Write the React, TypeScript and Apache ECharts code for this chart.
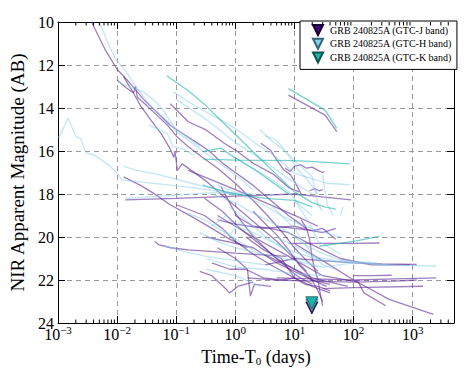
import React, { useEffect, useRef } from 'react';
import * as echarts from 'echarts';

type Pt = [number, number];

// Time since T0 (days), apparent AB magnitude — archival J-band light curves
const J_BAND: Pt[][] = [
  [[0.0037,10.0],[0.0063,11.3],[0.01,12.2],[0.016,12.8],[0.028,13.6],[0.047,14.2],[0.079,14.8],[0.13,15.2],[0.22,15.6],[0.36,16.0],[0.63,16.6],[1.0,17.0],[2.0,17.6],[4.0,18.3],[7.9,19.0],[16,19.6]],
  [[0.01,12.7],[0.014,13.05],[0.019,13.3],[0.0204,13.0],[0.022,13.5],[0.032,13.9],[0.05,14.4],[0.071,14.8],[0.1,15.3],[0.16,15.8],[0.28,16.3],[0.5,16.8],[1.0,17.5],[2.0,18.3],[3.5,19.0],[6.3,19.8],[10,20.5],[16,21.1],[25,21.6]],
  [[0.0129,12.55],[0.018,13.2],[0.025,13.9],[0.038,14.6],[0.056,15.2],[0.079,15.9],[0.091,16.3],[0.095,16.0],[0.105,16.9],[0.126,16.6],[0.18,16.9],[0.32,17.4],[0.63,18.1],[1.26,18.8],[2.5,19.5],[5,20.2],[10,21.0],[16,21.6]],
  [[7.9,13.4],[33,14.33],[52,15.1]],
  [[0.0129,17.2],[0.025,17.6],[0.041,17.96],[0.079,18.5],[0.18,19.04],[0.4,19.6],[0.8,20.1],[1.6,20.5]],
  [[0.0138,18.27],[0.1,18.2],[1.0,18.1],[3.2,18.05],[10,18.0],[32,18.15],[91,18.27]],
  [[0.043,20.2],[0.05,20.35],[0.08,20.5],[0.16,20.6],[1.0,20.75],[7.4,20.9]],
  [[0.079,13.8],[0.16,14.64],[0.32,15.02],[0.65,15.64],[1.1,16.03],[2.0,16.57],[4.5,17.1],[8,17.7],[12,17.9]],
  [[0.57,17.65],[1.0,18.9],[2.0,19.97],[4.5,20.9],[11,21.8],[20,22.2]],
  [[0.16,16.9],[1.0,17.8],[11,19.04],[25,19.5]],
  [[0.5,20.5],[1.0,21.0],[1.6,21.5],[1.8,22.75],[2.1,22.2],[4,22.3]],
  [[2.7,15.64],[3.9,15.95],[5,16.41],[6.6,16.88],[8.5,17.1],[10,17.4],[13,18.0]],
  [[7,16.8],[8.5,16.95],[10,16.7],[13,16.65],[16,16.8],[20,16.75],[25,16.9],[30,17.0],[32,16.95]],
  [[18,17.85],[22,17.75],[26,17.85],[30,17.8]],
  [[5,21.9],[20,21.95],[100,22.0],[500,21.95],[2500,21.9]],
  [[0.5,19.0],[2,20.0],[8,20.9],[30,21.8],[120,22.1],[150,22.6],[350,23.2]],
  [[10,20.3],[30,21.1],[100,22.0],[400,22.9],[2240,23.6]],
  [[1.6,21.9],[5,22.0],[20,22.05],[100,22.1],[500,22.05],[1170,22.0]],
  [[3.2,21.3],[10,21.0],[30,21.1],[100,21.2],[300,21.25],[1170,21.28]],
  [[30,22.4],[100,22.35],[1500,22.29]],
  [[8,20.3],[30,20.3],[100,20.3],[275,20.28]],
  [[0.5,19.2],[1,19.4],[3,19.6],[10,19.5],[20,19.7],[30,19.6],[50,20.1]],
  [[0.32,20.0],[1.0,20.3],[2.0,20.5],[5,21.2],[10,21.6],[20,22.0],[40,22.2]],
  [[0.25,21.6],[0.4,21.8],[0.63,22.3],[0.8,22.6],[1.1,22.3],[2,22.1]],
  [[1.5,20.0],[3,20.6],[6,21.0],[10,21.9],[15,22.2],[25,22.3],[40,22.5]],
  [[1.0,19.0],[2,19.5],[4,19.6],[8,19.8],[15,20.2],[30,20.6],[60,21.0],[200,21.3],[900,21.3]],
  [[5,19.5],[10,19.6],[20,19.7],[30,19.8],[50,19.6]],
  [[0.1,18.5],[0.3,19.0],[0.6,19.6],[1,20.2],[2,20.8],[4,21.3],[10,21.9],[20,22.3],[40,22.6]],
  [[2,18.8],[3,19.3],[5,19.9],[8,20.6],[12,21.3],[18,21.8],[25,22.5],[30,23.0]],
  [[13,19.2],[16,19.6],[18,20.1],[20,21.0],[22,21.5],[25,22.0],[28,22.8],[30,23.2]],
  [[0.4,21.2],[0.8,21.5],[1.5,21.5],[3,21.9],[6,22.0],[10,21.9]],
  [[100,21.8],[200,21.8],[440,21.78]],
  [[0.3,18.2],[0.6,18.8],[1.2,19.6],[2.5,20.3],[5,21.0],[10,21.5],[20,22.0],[35,22.3]],
  [[3,20.8],[6,21.2],[12,21.6],[20,21.9],[40,22.1],[80,22.3]],
];

// H-band light curves
const H_BAND: Pt[][] = [
  [[0.005,10.0],[0.0068,10.9],[0.0093,11.7],[0.014,12.3],[0.021,13.0],[0.032,13.7],[0.047,14.2],[0.071,14.6],[0.1,15.1],[0.16,15.5],[0.25,15.9],[0.5,16.5],[1.0,17.1],[2.0,17.8]],
  [[0.0105,12.8],[0.017,13.05],[0.028,13.25],[0.045,13.7],[0.06,14.1],[0.079,14.6],[0.1,15.0],[0.16,15.4],[0.25,15.8]],
  [[0.035,14.8],[0.05,15.0],[0.071,15.2],[0.089,15.8],[0.13,15.9],[0.2,16.2]],
  [[0.00102,15.4],[0.00148,14.48],[0.002,15.33],[0.0024,15.41],[0.003,16.1],[0.0041,16.18],[0.0072,16.65],[0.01,17.03],[0.012,17.34],[0.19,17.7],[1.0,18.0]],
  [[0.013,16.72],[0.02,16.88],[0.05,17.1],[0.18,17.5],[0.5,17.8],[1.0,18.1]],
  [[0.0138,18.2],[0.1,18.05],[0.32,17.95],[1.0,17.95],[2.0,18.0]],
  [[0.063,20.4],[0.15,20.7],[0.32,20.9],[1.0,21.1],[3.2,21.3]],
  [[0.089,13.25],[0.22,13.94],[0.45,14.4],[1.0,14.95],[2.2,15.64],[5,16.3],[10,17.03],[20,17.3],[35,17.5],[85,17.57]],
  [[0.1,13.6],[0.35,14.6],[1.0,15.6],[3.6,16.6],[9,17.4],[20,18.0]],
  [[2.6,15.0],[4,15.5],[6.6,15.95],[9.8,16.4],[14,16.8],[20,17.2],[25,18.5],[30,18.8]],
  [[3.2,15.3],[5,15.5],[8,16.2],[11,16.8],[16,17.3],[25,18.0]],
  [[30,17.1],[33,17.9],[36,18.5],[45,19.0]],
  [[60,19.0],[66,18.6]],
  [[0.4,19.5],[0.7,19.0],[1.0,19.5],[2,19.8],[4,20.2],[10,20.7],[30,21.1],[100,21.2],[300,21.3],[2500,21.36]],
  [[0.25,19.8],[0.5,20.2],[1,20.5],[3,20.8],[10,21.1],[30,21.4],[100,21.2]],
  [[0.32,21.5],[1.0,21.8],[2.7,22.3]],
  [[0.32,21.0],[1,21.4],[3,21.5],[10,21.7],[30,21.8]],
  [[0.79,18.6],[1.5,19.2],[3,19.9],[6,20.5],[12,21.0],[25,21.4]],
  [[0.4,18.0],[1,18.4],[2,18.9],[4,19.3],[8,19.8],[16,20.4],[32,20.8],[64,21.1],[250,21.2]],
  [[4,18.5],[6,19.0],[10,19.6],[14,20.2],[20,20.8],[30,21.3],[50,21.5]],
  [[0.63,19.7],[0.8,19.9],[1.2,19.3],[1.6,19.6],[2.5,20.2]],
  [[10,18.3],[15,19.0],[20,19.6],[25,20.2],[40,20.5],[60,20.8]],
  [[1.0,16.3],[2,16.8],[4,17.3],[8,17.9],[12,18.5],[20,19.0]],
  [[0.5,17.6],[1.2,18.0],[3,18.5],[6,19.0],[12,19.4],[25,19.7],[60,20.0]],
  [[0.16,18.9],[0.3,19.2],[0.5,19.6],[1,20.1],[2,20.6]],
  [[5,20.0],[10,20.4],[20,20.9],[50,21.1],[150,21.2],[400,21.3]],
];

// K-band light curves
const K_BAND: Pt[][] = [
  [[0.069,12.5],[0.16,13.2],[0.32,13.9],[0.63,14.7],[1.26,15.5],[2.5,16.3],[5,17.1],[10,17.9],[20,18.4],[32,18.6],[50,18.7]],
  [[7.9,13.1],[33,14.1],[52,14.95]],
  [[0.29,16.38],[1.0,16.42],[10,16.45],[30,16.52],[85,16.6]],
  [[0.28,16.03],[0.57,15.87],[0.83,16.18],[1.4,16.57],[2.5,17.0],[4,17.4],[8,18.0]],
  [[0.28,17.57],[0.5,17.8],[1.0,18.0],[3.2,18.2],[10,18.3],[20,18.6]],
  [[26,20.43],[100,20.2],[275,19.97]],
];

// GRB 240825A GTC upper limits
const GTC_TIME = 19.7;
const GTC_J = 23.3;
const GTC_H = 23.18;
const GTC_K = 23.06;

const Y_MIN = 10;
const Y_MAX = 24;
const Y_STEP = 2;
const X_MIN = 0.001;
const X_MAX = 5000;
const DECADES = [-3, -2, -1, 0, 1, 2, 3];
const MINOR_MULT = [2, 3, 4, 5, 6, 7, 8, 9];
const LEGEND_NAMES = ['GRB 240825A (GTC-J band)', 'GRB 240825A (GTC-H band)', 'GRB 240825A (GTC-K band)'];

const FONT = '"Liberation Serif", "Times New Roman", serif';
const C_J_LINE = 'rgba(94, 42, 150, 0.6)';
const C_H_LINE = 'rgba(135, 206, 235, 0.5)';
const C_K_LINE = 'rgba(32, 178, 170, 0.6)';
const C_J = '#3f0a78';
const C_H = '#87ceeb';
const C_K = '#20b2aa';
const TRI_DOWN = 'path://M0,0L2,0L1,2Z';

export default function App() {
  const ref = useRef<HTMLDivElement>(null);
  useEffect(() => {
    if (!ref.current) return;
    const chart = echarts.init(ref.current, undefined, { renderer: 'svg' });

    const minorTicks: number[][] = [];
    DECADES.forEach((d) => {
      MINOR_MULT.forEach((m) => {
        const v = m * Math.pow(10, d);
        if (v < X_MAX) minorTicks.push([v, Y_MAX]);
      });
    });

    const lineSeries = (curves: Pt[][], color: string, band: string) =>
      curves.map((c, i) => ({
        type: 'line',
        name: `${band}-${i}`,
        data: c,
        showSymbol: false,
        silent: true,
        lineStyle: { color, width: 1.3 },
        z: 2,
      }));

    const axisCommon = {
      axisLine: { show: true, lineStyle: { color: '#000', width: 1 } },
      axisTick: { show: true, inside: true, length: 7, lineStyle: { color: '#000' } },
    };

    const option: any = {
      animation: false,
      grid: { left: 54, right: 14, top: 22, bottom: 52 },
      xAxis: [
        {
          type: 'log',
          logBase: 10,
          min: X_MIN,
          max: X_MAX,
          interval: 1,
          name: '{a|Time-T}{sub|0}{a| (days)}',
          nameLocation: 'middle',
          nameGap: 25,
          nameTextStyle: {
            rich: {
              a: { fontFamily: FONT, fontSize: 18, color: '#000' },
              sub: { fontFamily: FONT, fontSize: 11, color: '#000', verticalAlign: 'bottom', lineHeight: 15 },
            },
          },
          ...axisCommon,
          axisLabel: {
            showMaxLabel: false,
            margin: 1,
            formatter: (v: number) => {
              const l = Math.log10(v);
              const e = Math.round(l);
              if (Math.abs(l - e) > 1e-6) return '';
              return `{b|10}{s|${e < 0 ? '\u2212' + -e : e}}`;
            },
            rich: {
              b: { fontFamily: FONT, fontSize: 16, color: '#000', lineHeight: 20 },
              s: { fontFamily: FONT, fontSize: 11, color: '#000', verticalAlign: 'top', lineHeight: 12 },
            },
          },
          splitLine: { show: true, lineStyle: { color: '#999', type: [5, 4], width: 1 } },
        },
        {
          type: 'log',
          logBase: 10,
          min: X_MIN,
          max: X_MAX,
          interval: 1,
          position: 'top',
          ...axisCommon,
          axisLabel: { show: false },
          splitLine: { show: false },
        },
      ],
      yAxis: [
        {
          type: 'value',
          inverse: true,
          min: Y_MIN,
          max: Y_MAX,
          interval: Y_STEP,
          name: 'NIR Apparent Magnitude (AB)',
          nameLocation: 'middle',
          nameGap: 31,
          nameTextStyle: { fontFamily: FONT, fontSize: 19, color: '#000' },
          ...axisCommon,
          axisLabel: { fontFamily: FONT, fontSize: 16, color: '#000', margin: 4 },
          splitLine: { show: true, lineStyle: { color: '#999', type: [5, 4], width: 1 } },
        },
        {
          type: 'value',
          inverse: true,
          min: Y_MIN,
          max: Y_MAX,
          interval: Y_STEP,
          position: 'right',
          ...axisCommon,
          axisLabel: { show: false },
          splitLine: { show: false },
        },
      ],
      legend: {
        left: 300,
        top: 21,
        orient: 'vertical',
        itemWidth: 10,
        itemHeight: 10,
        itemGap: 1.7,
        padding: [3, 5, 6, 12],
        borderColor: '#000',
        borderWidth: 1,
        borderRadius: 0,
        backgroundColor: '#fff',
        selectedMode: false,
        textStyle: { fontFamily: FONT, fontSize: 10, lineHeight: 10, color: '#000', padding: [0, 0, 0, 2] },
        data: LEGEND_NAMES,
      },
      series: [
        ...lineSeries(J_BAND, C_J_LINE, 'J'),
        ...lineSeries(H_BAND, C_H_LINE, 'H'),
        ...lineSeries(K_BAND, C_K_LINE, 'K'),
        {
          type: 'custom',
          name: 'minor-ticks',
          silent: true,
          clip: false,
          data: minorTicks,
          renderItem: (params: any, api: any) => {
            const v = api.value(0);
            const b = api.coord([v, Y_MAX]);
            const t = api.coord([v, Y_MIN]);
            return {
              type: 'group',
              children: [
                { type: 'line', shape: { x1: b[0], y1: b[1], x2: b[0], y2: b[1] - 3.5 }, style: { stroke: '#000', lineWidth: 1 } },
                { type: 'line', shape: { x1: t[0], y1: t[1], x2: t[0], y2: t[1] + 3.5 }, style: { stroke: '#000', lineWidth: 1 } },
              ],
            };
          },
          z: 5,
        },
        {
          type: 'scatter',
          name: LEGEND_NAMES[0],
          data: [[GTC_TIME, GTC_J]],
          symbol: TRI_DOWN,
          symbolSize: 12,
          itemStyle: { color: C_J, borderColor: '#1a0033', borderWidth: 0.8, opacity: 1 },
          z: 10,
        },
        {
          type: 'scatter',
          name: LEGEND_NAMES[1],
          data: [[GTC_TIME, GTC_H]],
          symbol: TRI_DOWN,
          symbolSize: 12,
          itemStyle: { color: C_H, borderColor: '#336677', borderWidth: 0.8, opacity: 1 },
          z: 11,
        },
        {
          type: 'scatter',
          name: LEGEND_NAMES[2],
          data: [[GTC_TIME, GTC_K]],
          symbol: TRI_DOWN,
          symbolSize: 12,
          itemStyle: { color: C_K, borderColor: '#0d5550', borderWidth: 0.8, opacity: 1 },
          z: 12,
        },
      ],
    };
    chart.setOption(option);
    return () => chart.dispose();
  }, []);
  return <div ref={ref} style={{ position: 'absolute', left: 0, top: 0, width: 468, height: 375 }} />;
}
